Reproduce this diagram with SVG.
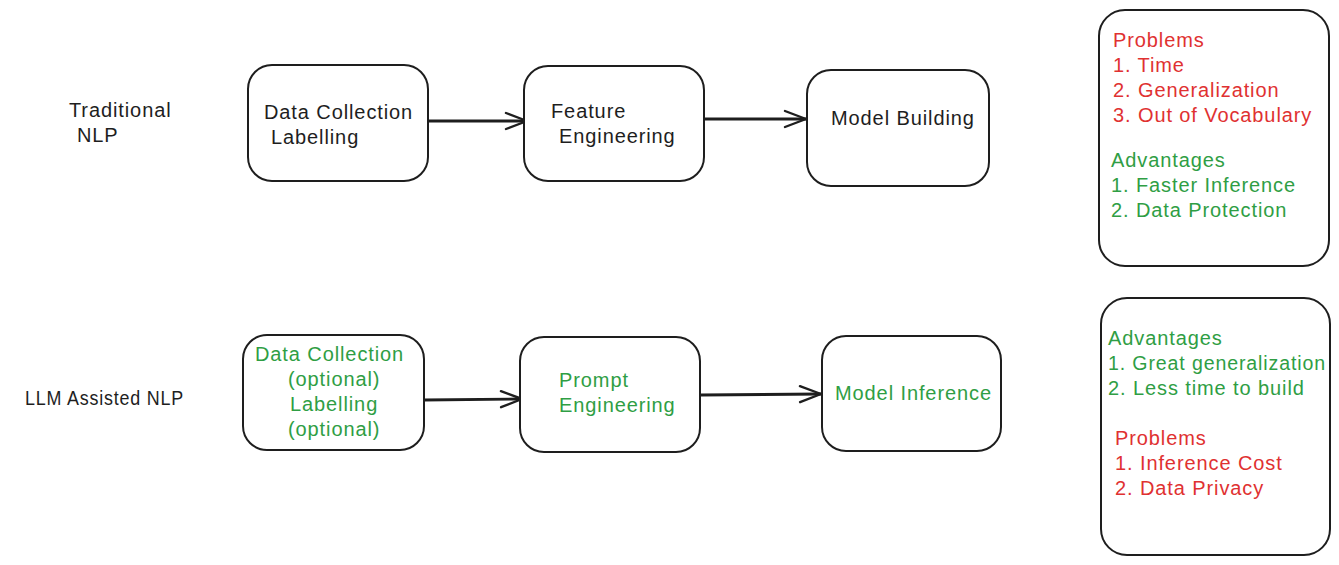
<svg xmlns="http://www.w3.org/2000/svg" width="1339" height="565" viewBox="0 0 1339 565">
<style>
.box{fill:#fff;stroke:#1e1e1e;stroke-width:2}
.t{font-family:"Liberation Sans",Arial,sans-serif;font-size:20px;letter-spacing:0.9px;fill:#1e1e1e}
.r{fill:#e03131}
.g{fill:#2f9e44}
.c{fill:none;stroke:#1e1e1e;stroke-width:2.8}
</style>
<defs>
<marker id="ah" markerWidth="26" markerHeight="22" refX="23" refY="11" orient="auto" markerUnits="userSpaceOnUse">
<path d="M2,3 L23,11 L2,19" fill="none" stroke="#1e1e1e" stroke-width="2.4" stroke-linecap="round" stroke-linejoin="round"/>
</marker>
</defs>
<rect width="1339" height="565" fill="#fff"/>
<g id="connectors">
<path class="c" d="M428,121 L527,121" marker-end="url(#ah)"/>
<path class="c" d="M704,119 L806,119" marker-end="url(#ah)"/>
<path class="c" d="M424,400 L522,399" marker-end="url(#ah)"/>
<path class="c" d="M701,395 L821,394" marker-end="url(#ah)"/>
</g>
<g id="label-traditional">
<text class="t" x="69" y="117">Traditional</text>
<text class="t" x="77" y="142">NLP</text>
</g>
<g id="label-llm">
<text class="t" x="25" y="405" textLength="159" lengthAdjust="spacingAndGlyphs">LLM Assisted NLP</text>
</g>
<g id="n1">
<rect class="box" x="248" y="65" width="180" height="116" rx="24"/>
<text class="t" x="264" y="119">Data Collection</text>
<text class="t" x="271" y="144">Labelling</text>
</g>
<g id="n2">
<rect class="box" x="524" y="66" width="180" height="115" rx="24"/>
<text class="t" x="551" y="118">Feature</text>
<text class="t" x="559" y="143">Engineering</text>
</g>
<g id="n3">
<rect class="box" x="807" y="70" width="182" height="116" rx="24"/>
<text class="t" x="831" y="125">Model Building</text>
</g>
<g id="n4">
<rect class="box" x="1099" y="10" width="230" height="256" rx="26"/>
<text class="t r" x="1113" y="47">Problems</text>
<text class="t r" x="1113" y="72">1. Time</text>
<text class="t r" x="1113" y="97">2. Generalization</text>
<text class="t r" x="1113" y="122">3. Out of Vocabulary</text>
<text class="t g" x="1111" y="167">Advantages</text>
<text class="t g" x="1111" y="192">1. Faster Inference</text>
<text class="t g" x="1111" y="217">2. Data Protection</text>
</g>
<g id="n5">
<rect class="box" x="243" y="335" width="181" height="115" rx="24"/>
<text class="t g" x="255" y="361">Data Collection</text>
<text class="t g" x="288" y="386">(optional)</text>
<text class="t g" x="290" y="411">Labelling</text>
<text class="t g" x="288" y="436">(optional)</text>
</g>
<g id="n6">
<rect class="box" x="520" y="337" width="180" height="115" rx="24"/>
<text class="t g" x="559" y="387">Prompt</text>
<text class="t g" x="559" y="412">Engineering</text>
</g>
<g id="n7">
<rect class="box" x="822" y="336" width="179" height="115" rx="24"/>
<text class="t g" x="835" y="400">Model Inference</text>
</g>
<g id="n8">
<rect class="box" x="1101" y="298" width="229" height="257" rx="26"/>
<text class="t g" x="1108" y="345">Advantages</text>
<text class="t g" x="1108" y="370" textLength="218" lengthAdjust="spacingAndGlyphs">1. Great generalization</text>
<text class="t g" x="1108" y="395">2. Less time to build</text>
<text class="t r" x="1115" y="445">Problems</text>
<text class="t r" x="1115" y="470">1. Inference Cost</text>
<text class="t r" x="1115" y="495">2. Data Privacy</text>
</g>
</svg>
